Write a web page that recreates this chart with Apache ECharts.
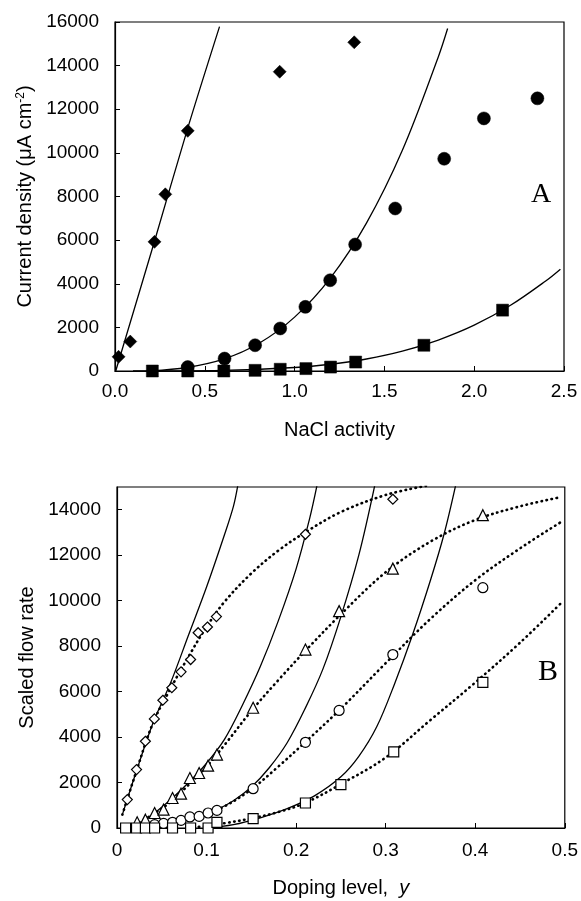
<!DOCTYPE html>
<html><head><meta charset="utf-8">
<script src="https://cdn.jsdelivr.net/npm/echarts@6/dist/echarts.min.js"></script>
<style>html,body{margin:0;padding:0;background:#fff}#c{width:581px;height:901px}</style>
</head><body><div id="c"></div>
<script>
// ---------- Panel A data (NaCl activity vs current density) ----------
const aDiamonds = [[0.02,650],[0.085,1350],[0.22,5920],[0.28,8100],[0.405,11010],[0.917,13720],[1.332,15070]];
const aCircles  = [[0.405,180],[0.61,570],[0.78,1180],[0.92,1950],[1.06,2940],[1.198,4160],[1.337,5800],[1.56,7450],[1.833,9730],[2.054,11580],[2.352,12500]];
const aSquares  = [[0.208,0],[0.405,0],[0.606,0],[0.78,30],[0.92,80],[1.063,110],[1.2,180],[1.34,410],[1.72,1180],[2.158,2790]];
const aFitDiamond = [[0.004,0],[0.22,5950],[0.40,11000],[0.582,15790]];
const aFitCircle  = [[0.2,5],[0.4,160],[0.6,530],[0.8,1260],[1.0,2470],[1.2,4270],[1.4,6780],[1.6,10120],[1.8,14400],[1.852,15700]];
const aFitSquare  = [[0.1,0],[0.6,25],[1.0,160],[1.2,310],[1.4,550],[1.6,910],[1.8,1420],[2.0,2100],[2.2,3000],[2.4,4140],[2.48,4670]];

// ---------- Panel B data (doping level vs scaled flow rate) ----------
const bDiamonds  = [[0.0115,1250],[0.0218,2570],[0.0317,3815],[0.0417,4800],[0.0512,5620],[0.0612,6170],[0.0715,6870],[0.0822,7410],[0.0906,8590],[0.101,8840],[0.111,9300],[0.2104,12920],[0.308,14460]];
const bTriangles = [[0.0225,250],[0.0317,365],[0.042,660],[0.052,805],[0.062,1320],[0.0715,1510],[0.0814,2200],[0.0917,2420],[0.1017,2740],[0.1116,3230],[0.152,5290],[0.2104,7850],[0.248,9540],[0.308,11410],[0.4085,13760]];
const bCircles   = [[0.042,150],[0.052,200],[0.062,250],[0.0715,335],[0.0814,485],[0.0917,510],[0.1017,660],[0.1116,775],[0.152,1730],[0.2104,3770],[0.248,5170],[0.308,7630],[0.4085,10570]];
const bSquares   = [[0.0096,0],[0.0218,0],[0.0317,0],[0.042,0],[0.062,0],[0.0822,0],[0.1017,0],[0.1116,250],[0.152,410],[0.2104,1100],[0.25,1910],[0.309,3350],[0.4085,6410]];

const bSolidD = [[0.006,590],[0.02,2300],[0.04,4600],[0.06,6400],[0.08,8500],[0.1,10600],[0.12,12900],[0.13,14150],[0.1348,15050]];
const bSolidT = [[0.017,0],[0.04,600],[0.06,1250],[0.08,2000],[0.1,2850],[0.12,3900],[0.14,5400],[0.16,7100],[0.18,9100],[0.2,11400],[0.215,13600],[0.2232,15050]];
const bSolidC = [[0.05,0],[0.07,280],[0.09,500],[0.11,780],[0.13,1200],[0.15,1800],[0.17,2650],[0.19,3750],[0.21,5250],[0.23,7000],[0.25,9300],[0.27,12000],[0.2877,15050]];
const bSolidS = [[0.1,0],[0.13,150],[0.16,450],[0.19,850],[0.22,1400],[0.25,2250],[0.27,3150],[0.29,4450],[0.31,6350],[0.33,8500],[0.35,10900],[0.365,12900],[0.378,15050]];

const bDotD = [[0.006,590],[0.02,2300],[0.04,4600],[0.06,6150],[0.08,7550],[0.1,8850],[0.12,9950],[0.15,11200],[0.18,12200],[0.21,13000],[0.25,13900],[0.3,14650],[0.345,15050]];
const bDotT = [[0.02,150],[0.04,600],[0.06,1150],[0.08,1900],[0.1,2700],[0.12,3650],[0.15,5150],[0.18,6500],[0.21,7780],[0.25,9400],[0.3,11250],[0.35,12600],[0.4,13550],[0.45,14150],[0.495,14550]];
const bDotC = [[0.04,0],[0.06,150],[0.08,380],[0.1,630],[0.12,950],[0.15,1700],[0.18,2700],[0.21,3770],[0.25,5250],[0.3,7250],[0.35,9200],[0.4,10900],[0.45,12300],[0.495,13440]];
const bDotS = [[0.08,0],[0.1,90],[0.12,210],[0.15,420],[0.18,700],[0.21,1100],[0.25,1930],[0.3,3100],[0.35,4750],[0.4,6400],[0.45,8150],[0.495,9860]];

const FONT = '"Liberation Sans", Arial, Helvetica, sans-serif';
const chart = echarts.init(document.getElementById('c'), null, {renderer: 'canvas'});

function valAxis(extra) {
  return Object.assign({
    type: 'value',
    splitLine: {show: false},
    axisLine: {show: true, onZero: false, lineStyle: {color: '#000', width: 1.2}},
    axisTick: {show: true, inside: true, length: 5, lineStyle: {color: '#000', width: 1}},
    axisLabel: {color: '#000', fontFamily: FONT, fontSize: 19},
    nameTextStyle: {color: '#000', fontFamily: FONT, fontSize: 20},
    nameLocation: 'middle'
  }, extra);
}
function fitLine(data, xi, dotted) {
  return {
    type: 'line', data: data, xAxisIndex: xi, yAxisIndex: xi,
    showSymbol: false, symbol: 'none', smooth: 0.35,
    z: dotted ? 3 : 2, silent: true,
    lineStyle: dotted ? {color: '#000', width: 2.6, type: [0.5, 4.6], cap: 'round', opacity: 1}
                      : {color: '#000', width: 1.3, opacity: 1}
  };
}
function marks(data, xi, symbol, size, filled) {
  return {
    type: 'scatter', data: data, xAxisIndex: xi, yAxisIndex: xi,
    symbol: symbol, symbolSize: size, clip: false, z: 5, silent: true,
    itemStyle: filled ? {color: '#000', borderColor: '#000', borderWidth: 0.5, opacity: 1}
                      : {color: '#fff', borderColor: '#000', borderWidth: 1.2, opacity: 1}
  };
}

const option = {
  animation: false,
  backgroundColor: '#fff',
  grid: [
    {left: 115, top: 22, width: 449, height: 349, show: true, borderColor: '#000', borderWidth: 1.2},
    {left: 117, top: 487, width: 451, height: 341, show: true, borderColor: '#000', borderWidth: 1.2}
  ],
  xAxis: [
    valAxis({gridIndex: 0, min: 0, max: 2.5, interval: 0.5, name: 'NaCl activity', nameGap: 49,
      axisLabel: {color: '#000', fontFamily: FONT, fontSize: 19, margin: 11, formatter: v => v.toFixed(1)}}),
    valAxis({gridIndex: 1, min: 0, max: 0.5, interval: 0.1, nameGap: 50,
      name: '{t|Doping level,  }{i|y}',
      nameTextStyle: {color: '#000', fontFamily: FONT, fontSize: 20,
        rich: {t: {fontFamily: FONT, fontSize: 20, color: '#000'}, i: {fontFamily: FONT, fontSize: 20, fontStyle: 'italic', color: '#000'}}},
      axisLabel: {color: '#000', fontFamily: FONT, fontSize: 19, margin: 13, formatter: v => String(v)}})
  ],
  yAxis: [
    valAxis({gridIndex: 0, min: 0, max: 16000, interval: 2000, nameGap: 76,
      name: '{t|Current density (μA cm}{s|-2}{t|)}',
      nameTextStyle: {color: '#000', fontFamily: FONT, fontSize: 20,
        rich: {t: {fontFamily: FONT, fontSize: 20, color: '#000'}, s: {fontFamily: FONT, fontSize: 12, color: '#000', padding: [0, 0, 9, 0]}}},
      axisLabel: {color: '#000', fontFamily: FONT, fontSize: 19, margin: 16, formatter: v => String(v)}}),
    valAxis({gridIndex: 1, min: 0, max: 15000, interval: 2000, nameGap: 78, name: 'Scaled flow rate',
      axisLabel: {color: '#000', fontFamily: FONT, fontSize: 19, margin: 16, showMaxLabel: false,
        formatter: v => (v > 14000 ? '' : String(v))}})
  ],
  graphic: [
    {type: 'text', left: 531, top: 181, silent: true, style: {text: 'A', font: '28px "Liberation Serif", "Times New Roman", serif', fill: '#000'}},
    {type: 'text', left: 538, top: 657, silent: true, style: {text: 'B', font: '30px "Liberation Serif", "Times New Roman", serif', fill: '#000'}}
  ],
  series: [
    fitLine(aFitDiamond, 0, false),
    fitLine(aFitCircle, 0, false),
    fitLine(aFitSquare, 0, false),
    marks(aDiamonds, 0, 'diamond', 13, true),
    marks(aCircles, 0, 'circle', 13, true),
    marks(aSquares, 0, 'rect', 12, true),

    fitLine(bSolidD, 1, false),
    fitLine(bSolidT, 1, false),
    fitLine(bSolidC, 1, false),
    fitLine(bSolidS, 1, false),
    fitLine(bDotD, 1, true),
    fitLine(bDotT, 1, true),
    fitLine(bDotC, 1, true),
    fitLine(bDotS, 1, true),
    marks(bDiamonds, 1, 'diamond', 10, false),
    marks(bTriangles, 1, 'triangle', 11, false),
    marks(bCircles, 1, 'circle', 10, false),
    marks(bSquares, 1, 'rect', 10, false)
  ]
};
chart.setOption(option);
</script>
</body></html>
